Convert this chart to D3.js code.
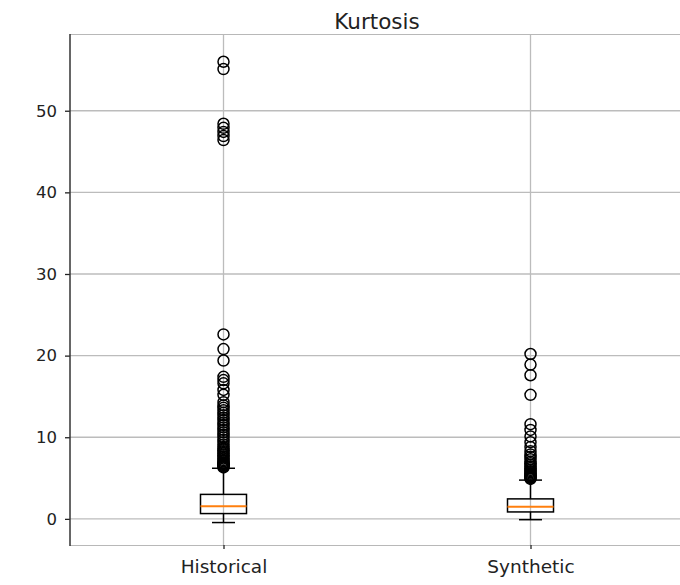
<!DOCTYPE html>
<html><head><meta charset="utf-8">
<script src="https://cdn.jsdelivr.net/npm/d3@7"></script>
<style>html,body{margin:0;padding:0;background:#fff;}svg{display:block;}</style>
</head><body>
<svg id="chart" width="680" height="585"></svg>
<script>
const title = "Kurtosis";
const categories = ["Historical", "Synthetic"];
const yTicks = [0, 10, 20, 30, 40, 50];
// box statistics: [whiskerLow, q1, median, q3, whiskerHigh]
const histStats = [-0.45, 0.65, 1.55, 3.0, 6.2];
const synthStats = [-0.1, 0.85, 1.5, 2.45, 4.75];
const histOutliers = [56.0, 55.1, 48.4, 47.9, 47.4, 46.9, 46.4, 22.6, 20.8, 19.4, 17.4, 17.0, 16.6, 15.8, 15.2,
  14.3, 13.9, 13.6, 13.3, 13.0, 12.7, 12.4, 12.1, 11.8, 11.5, 11.2, 10.9, 10.6, 10.3, 10.0, 9.7, 9.4, 9.1, 8.8,
  8.6, 8.4, 8.2, 8.0, 7.8, 7.6, 7.4, 7.2, 7.05, 6.9, 6.8, 6.7, 6.6, 6.5, 6.4, 6.3];
const synthOutliers = [20.2, 18.9, 17.6, 15.2, 11.6, 10.9, 10.1, 9.4, 8.8, 8.3, 7.9, 7.6, 7.3, 7.0, 6.8, 6.6,
  6.4, 6.2, 6.0, 5.85, 5.7, 5.55, 5.4, 5.3, 5.2, 5.1, 5.0, 4.9];
const statsList = [histStats, synthStats];
const outlierList = [histOutliers, synthOutliers];

(function () {
const svg = d3.select("#chart");
const mL = 70, mR = 684, mT = 34, mB = 545;
const x = d3.scaleLinear().domain([0.5, 2.5]).range([mL, mR]);
const y = d3.scaleLinear().domain([-3.2, 59.4]).range([mB, mT]);
const font = "DejaVu Sans, sans-serif";

// grid
svg.append("g").selectAll("line").data(yTicks).join("line")
  .attr("x1", mL).attr("x2", mR).attr("y1", d => y(d)).attr("y2", d => y(d))
  .attr("stroke", "#bcbcbc").attr("stroke-width", 1.3);
svg.append("g").selectAll("line").data(categories).join("line")
  .attr("x1", (d, i) => x(i + 1)).attr("x2", (d, i) => x(i + 1)).attr("y1", mT).attr("y2", mB)
  .attr("stroke", "#bcbcbc").attr("stroke-width", 1.3);

// frame
svg.append("line").attr("x1", mL).attr("x2", mR).attr("y1", mT + 0.5).attr("y2", mT + 0.5).attr("stroke", "#b8b8b8");
svg.append("line").attr("x1", mL).attr("x2", mR).attr("y1", mB + 0.5).attr("y2", mB + 0.5).attr("stroke", "#b8b8b8");

// axes
const yAxis = svg.append("g").attr("transform", `translate(${mL},0)`)
  .call(d3.axisLeft(y).tickValues(yTicks).tickSize(5).tickPadding(8).tickFormat(d3.format("d")));
yAxis.select(".domain").remove();
yAxis.selectAll("text").attr("font-family", font).attr("font-size", 16.5).attr("fill", "#222");
yAxis.selectAll(".tick line").attr("stroke", "#222").attr("stroke-width", 1.3);
svg.append("line").attr("x1", mL).attr("x2", mL).attr("y1", mT).attr("y2", mB + 1).attr("stroke", "#333").attr("stroke-width", 1.5);

const xAxis = svg.append("g").attr("transform", `translate(0,${mB})`)
  .call(d3.axisBottom(x).tickValues([1, 2]).tickSize(4).tickPadding(11).tickFormat((d) => categories[d - 1]));
xAxis.select(".domain").remove();
xAxis.selectAll("text").attr("font-family", font).attr("font-size", 18.5).attr("fill", "#222");
xAxis.selectAll(".tick line").attr("stroke", "#222").attr("stroke-width", 1.3);

// boxes
const boxW = 46, capW = 23;
const g = svg.append("g");
statsList.forEach((s, i) => {
  const cx = x(i + 1);
  const bg = g.append("g");
  const sw = 1.5;
  bg.append("line").attr("x1", cx).attr("x2", cx).attr("y1", y(s[0])).attr("y2", y(s[1])).attr("stroke", "#000").attr("stroke-width", sw);
  bg.append("line").attr("x1", cx).attr("x2", cx).attr("y1", y(s[3])).attr("y2", y(s[4])).attr("stroke", "#000").attr("stroke-width", sw);
  bg.append("line").attr("x1", cx - capW / 2).attr("x2", cx + capW / 2).attr("y1", y(s[0])).attr("y2", y(s[0])).attr("stroke", "#000").attr("stroke-width", sw);
  bg.append("line").attr("x1", cx - capW / 2).attr("x2", cx + capW / 2).attr("y1", y(s[4])).attr("y2", y(s[4])).attr("stroke", "#000").attr("stroke-width", sw);
  bg.append("rect").attr("x", cx - boxW / 2).attr("width", boxW).attr("y", y(s[3])).attr("height", y(s[1]) - y(s[3]))
    .attr("fill", "none").attr("stroke", "#000").attr("stroke-width", sw);
  bg.append("line").attr("x1", cx - boxW / 2).attr("x2", cx + boxW / 2).attr("y1", y(s[2])).attr("y2", y(s[2]))
    .attr("stroke", "#ff7f0e").attr("stroke-width", 2);
  bg.selectAll("circle").data(outlierList[i]).join("circle")
    .attr("cx", cx).attr("cy", d => y(d)).attr("r", 5.5)
    .attr("fill", "none").attr("stroke", "#000").attr("stroke-width", 1.5);
});

// title
svg.append("text").attr("x", (mL + mR) / 2).attr("y", 29).attr("text-anchor", "middle")
  .attr("font-family", font).attr("font-size", 21.5).attr("fill", "#222").text(title);
})();
</script>
</body></html>
